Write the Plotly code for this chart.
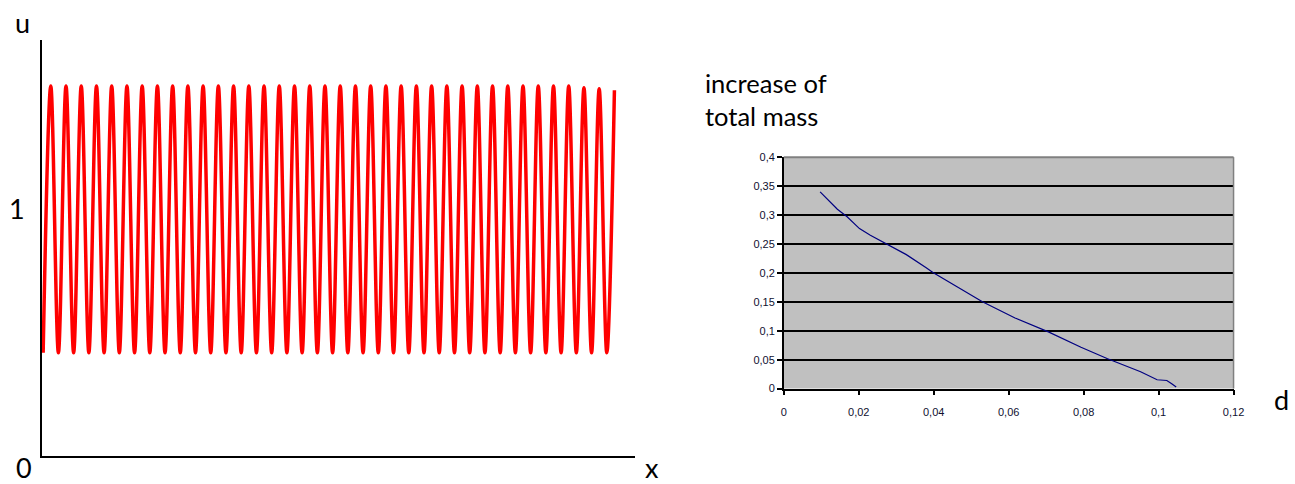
import plotly.graph_objects as go

# ---------------- Left chart: oscillating profile u(x) ----------------
x_trough = [0.16, 1.70, 3.24, 4.78, 6.32, 7.86, 9.40, 10.94, 12.48, 14.02,
            15.56, 17.10, 18.64, 20.18, 21.72, 23.26, 24.80, 26.34, 27.88, 29.42,
            30.96, 32.50, 34.04, 35.58, 37.12, 38.66, 40.20, 41.74, 43.28, 44.82,
            46.36, 47.90, 49.44, 50.98, 52.52, 54.06, 55.60, 57.14]
x_peak = [0.93, 2.47, 4.01, 5.55, 7.09, 8.63, 10.17, 11.71, 13.25, 14.79,
          16.33, 17.87, 19.41, 20.95, 22.49, 24.03, 25.57, 27.11, 28.65, 30.19,
          31.73, 33.27, 34.81, 36.35, 37.89, 39.43, 40.97, 42.51, 44.05, 45.59,
          47.13, 48.67, 50.21, 51.75, 53.29, 54.83, 56.37, 57.91]
u_trough = [0.42, 0.42, 0.42, 0.42, 0.42, 0.42, 0.42, 0.42, 0.42, 0.42,
            0.42, 0.42, 0.42, 0.42, 0.42, 0.42, 0.42, 0.42, 0.42, 0.42,
            0.42, 0.42, 0.42, 0.42, 0.42, 0.42, 0.42, 0.42, 0.42, 0.42,
            0.42, 0.42, 0.42, 0.42, 0.42, 0.42, 0.42, 0.42]
u_peak = [1.51, 1.51, 1.51, 1.51, 1.51, 1.51, 1.51, 1.51, 1.51, 1.51,
          1.51, 1.51, 1.51, 1.51, 1.51, 1.51, 1.51, 1.51, 1.51, 1.51,
          1.51, 1.51, 1.51, 1.51, 1.51, 1.51, 1.51, 1.51, 1.51, 1.51,
          1.51, 1.51, 1.51, 1.51, 1.51, 1.502, 1.498, 1.492]

# ---------------- Right chart: increase of total mass vs d ----------------
d_vals = [0.0097, 0.0143, 0.0169, 0.0202, 0.0231, 0.0274, 0.0327, 0.0380,
          0.0398, 0.0530, 0.0617, 0.0706, 0.0793, 0.0864, 0.0925, 0.0952,
          0.0996, 0.1022, 0.1035, 0.1047]
mass_vals = [0.340, 0.310, 0.297, 0.2765, 0.265, 0.250, 0.2315, 0.209,
             0.2007, 0.150, 0.122, 0.098, 0.0713, 0.0516, 0.036, 0.029,
             0.0152, 0.014, 0.0084, 0.0027]

y2_ticks = [0, 0.05, 0.1, 0.15, 0.2, 0.25, 0.3, 0.35, 0.4]
y2_labels = ["0", "0,05", "0,1", "0,15", "0,2", "0,25", "0,3", "0,35", "0,4"]
x2_ticks = [0, 0.02, 0.04, 0.06, 0.08, 0.1, 0.12]
x2_labels = ["0", "0,02", "0,04", "0,06", "0,08", "0,1", "0,12"]

W, H = 1295, 484


def px_x(p):
    return p / W


def px_y(p):
    return 1 - p / H


xs, us = [], []
for xt, ut, xp, up in zip(x_trough, u_trough, x_peak, u_peak):
    xs += [xt, xp]
    us += [ut, up]

fig = go.Figure()
fig.add_trace(go.Scatter(x=xs, y=us, mode="lines",
                         line=dict(color="#ff0000", width=3.5, shape="spline"),
                         xaxis="x", yaxis="y", showlegend=False,
                         hoverinfo="skip"))
fig.add_trace(go.Scatter(x=d_vals, y=mass_vals, mode="lines",
                         line=dict(color="#000080", width=1.2),
                         xaxis="x2", yaxis="y2", showlegend=False))

big_font = dict(family="Lato, Open Sans, sans-serif", size=27, color="#000000")
title_font = dict(family="Lato, Open Sans, sans-serif", size=25.5, color="#000000")
tick_font = dict(family="Liberation Sans, Arial, sans-serif", size=11, color="#101030")

fig.update_layout(
    width=W, height=H, autosize=False,
    margin=dict(l=0, r=0, t=0, b=0),
    paper_bgcolor="white",
    plot_bgcolor="white",
    xaxis=dict(domain=[px_x(39), px_x(639)], range=[0, 60],
               showline=True, linecolor="black", linewidth=1.5,
               showgrid=False, zeroline=False, showticklabels=False,
               ticks=""),
    yaxis=dict(domain=[px_y(461), px_y(35)], range=[0, 1.697],
               showline=True, linecolor="black", linewidth=1.5,
               showgrid=False, zeroline=False, showticklabels=False,
               ticks=""),
    xaxis2=dict(domain=[px_x(789.3), px_x(1244)], range=[0, 0.12],
                anchor="y2", tickvals=x2_ticks, ticktext=x2_labels,
                ticks="outside", ticklen=5, tickwidth=1.5, tickcolor="black",
                ticklabelstandoff=7,
                showline=True, linecolor="black", linewidth=1.5,
                showgrid=False, zeroline=False, tickfont=tick_font),
    yaxis2=dict(domain=[px_y(392.3), px_y(155)], range=[0, 0.4],
                anchor="x2", tickvals=y2_ticks, ticktext=y2_labels,
                ticks="outside", ticklen=5, tickwidth=1.5, tickcolor="black",
                showline=True, linecolor="black", linewidth=1.5,
                showgrid=True, gridcolor="black", gridwidth=2,
                zeroline=False, tickfont=tick_font),
    shapes=[
        dict(type="rect", xref="x2 domain", yref="y2 domain",
             x0=0, x1=1, y0=0, y1=1, fillcolor="#c0c0c0",
             line=dict(width=0), layer="below"),
        dict(type="line", xref="x2 domain", yref="y2 domain",
             x0=0, x1=1, y0=1, y1=1, line=dict(color="#808080", width=2)),
        dict(type="line", xref="x2 domain", yref="y2 domain",
             x0=1, x1=1, y0=0, y1=1, line=dict(color="#808080", width=1.5)),
    ],
    annotations=[
        dict(text="u", x=px_x(19.5), y=px_y(17), xref="paper", yref="paper",
             showarrow=False, xanchor="center", yanchor="middle", font=big_font),
        dict(text="1", x=px_x(14), y=px_y(208), xref="paper", yref="paper",
             showarrow=False, xanchor="center", yanchor="middle", font=big_font),
        dict(text="0", x=px_x(21), y=px_y(473), xref="paper", yref="paper",
             showarrow=False, xanchor="center", yanchor="middle", font=big_font),
        dict(text="x", x=px_x(656.5), y=px_y(473), xref="paper", yref="paper",
             showarrow=False, xanchor="center", yanchor="middle", font=big_font),
        dict(text="increase of<br>total mass", x=px_x(708), y=px_y(96),
             xref="paper", yref="paper", align="left",
             showarrow=False, xanchor="left", yanchor="middle", font=title_font),
        dict(text="d", x=px_x(1283), y=px_y(404), xref="paper", yref="paper",
             showarrow=False, xanchor="left", yanchor="middle", font=big_font),
    ],
)

fig.write_html("out.html")
